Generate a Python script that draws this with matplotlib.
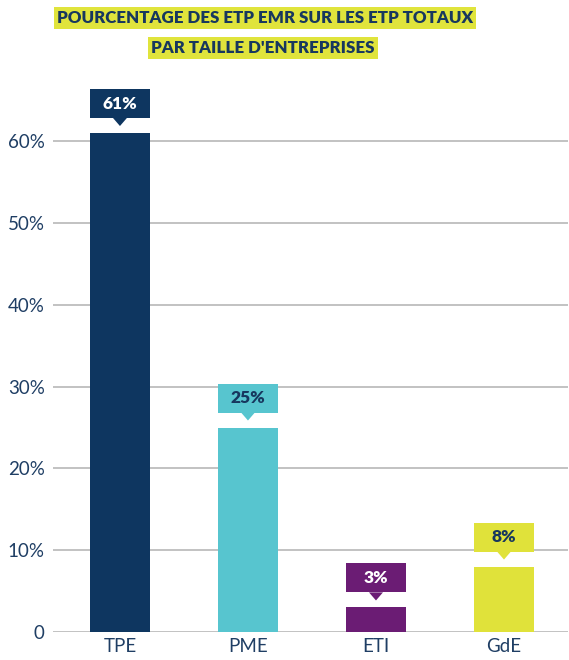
import matplotlib.pyplot as plt
from matplotlib.patches import Rectangle, Polygon

# Share of EMR FTEs among all FTEs, by company size
categories = ['TPE', 'PME', 'ETI', 'GdE']
values = [61, 25, 3, 8]
bar_colors = ['#0E3660', '#57C5CF', '#6B1C74', '#E0E23A']
label_colors = ['white', '#17375E', 'white', '#17375E']
yticks = [0, 10, 20, 30, 40, 50, 60]
ytick_labels = ['0', '10%', '20%', '30%', '40%', '50%', '60%']

NAVY = '#1F3E64'
plt.rcParams['font.family'] = ['Lato', 'DejaVu Sans']

fig = plt.figure(figsize=(5.69, 6.60), dpi=100)
ax = fig.add_axes([53 / 569, 28 / 660, 515 / 569, 572.6 / 660])

x = list(range(len(categories)))
bar_w = 60 / 128
ax.bar(x, values, width=bar_w, color=bar_colors, zorder=3)

# value callouts: box above each bar with a small pointer
px = 8.18  # pixels per percent
for xi, v, c, tc in zip(x, values, bar_colors, label_colors):
    bottom = v + 15 / px
    h = 29 / px
    ax.add_patch(Rectangle((xi - bar_w / 2, bottom), bar_w, h, color=c, zorder=4, linewidth=0))
    tri_w = 7 / 128
    ax.add_patch(Polygon([(xi - tri_w, bottom + 0.01), (xi + tri_w, bottom + 0.01), (xi, v + 7 / px)],
                         closed=True, color=c, zorder=4, linewidth=0))
    ax.text(xi, bottom + h / 2, f'{v}%', ha='center', va='center', color=tc,
            fontsize=12.5, fontweight='heavy', zorder=5)

ax.set_xlim(-0.523, 3.5)
ax.set_ylim(0, 70)
ax.set_yticks(yticks)
ax.set_yticklabels(ytick_labels)
ax.set_xticks(x)
ax.set_xticklabels(categories)
ax.tick_params(axis='both', length=0, labelsize=13.5, labelcolor=NAVY)
ax.tick_params(axis='y', pad=6)
ax.tick_params(axis='x', pad=4)
ax.yaxis.grid(True, color='#BDBDBD', linewidth=1.3, zorder=0)
for s in ax.spines.values():
    s.set_visible(False)

title_kw = dict(ha='center', va='center', color='#17375E', fontsize=12.2, fontweight='heavy',
                bbox=dict(facecolor='#E0E43C', edgecolor='none', pad=2.5))
fig.text(265 / 569, 1 - 18 / 660, 'POURCENTAGE DES ETP EMR SUR LES ETP TOTAUX', **title_kw)
fig.text(263 / 569, 1 - 48 / 660, "PAR TAILLE D'ENTREPRISES", **title_kw)

fig.savefig('out.png', dpi=100)
